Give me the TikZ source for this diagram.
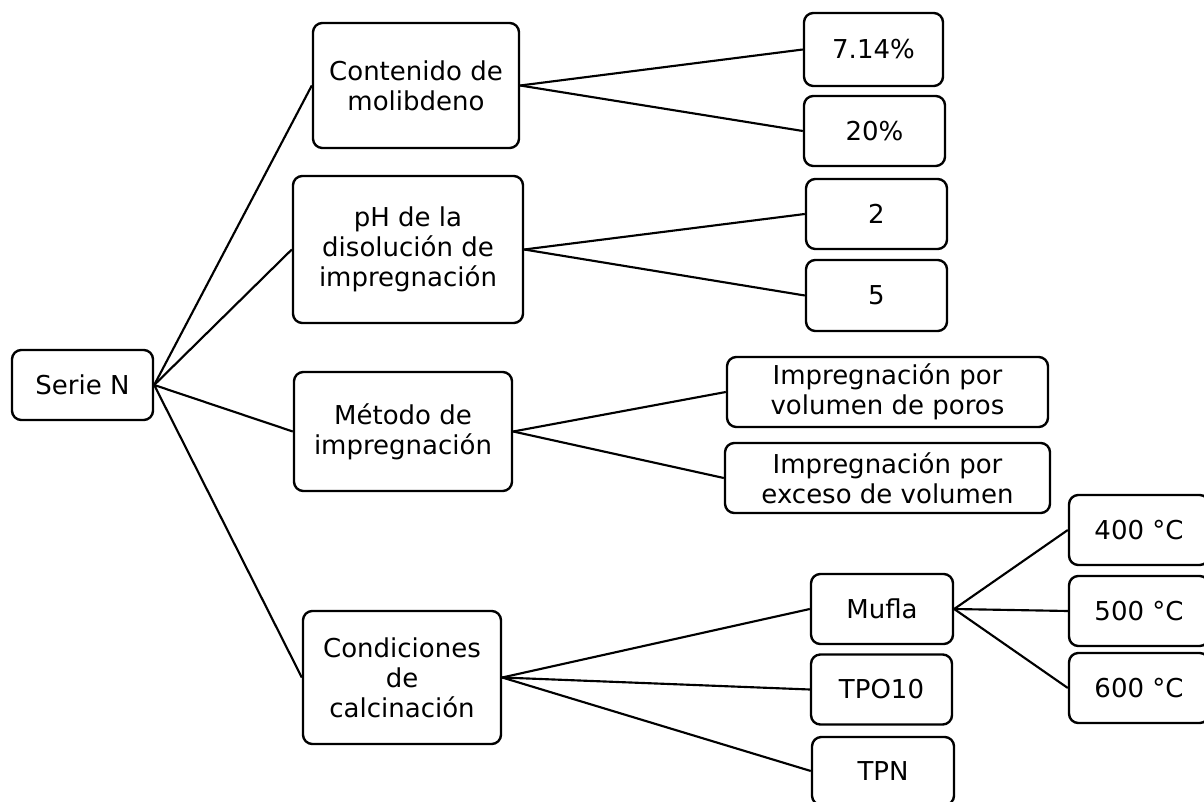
\documentclass[tikz,border=0pt]{standalone}
\usepackage{fontspec}
\setmainfont{DejaVu Sans}
\usetikzlibrary{positioning}

\tikzset{box/.style={draw,rounded corners=7pt,line width=1.8pt,align=center,inner sep=0pt,
  font=\fontsize{19.5}{22.5}\selectfont},
  sz/.style 2 args={minimum width={#1*0.75pt},minimum height={#2*0.75pt}},
  link/.style={line width=1.6pt}}

\begin{document}
\begin{tikzpicture}[x=0.75pt,y=-0.75pt]
\useasboundingbox (0,0) rectangle (1204,802);
\clip (0,0) rectangle (1204,802);

% raiz y primer nivel
\node[box,sz={141}{70}] (serie) at (82.5,385) {Serie N};
\node[box,sz={206}{125}] (cont) at (416,85.5) {Contenido de\\molibdeno};
\node[box,sz={230}{147}] (ph) at (408,249.5) {pH de la\\disolución de\\impregnación};
\node[box,sz={218}{119}] (metodo) at (403,431.5) {Método de\\impregnación};
\node[box,sz={198}{133}] (cond) at (402,677.5) {Condiciones\\de\\calcinación};

% segundo nivel
\node[box,sz={139}{73}] (p714) at (873.5,49.5) {7.14\%};
\node[box,sz={141}{70}] (p20) at (874.5,131) {20\%};
\node[box,sz={141}{70}] (ph2) at (876.5,214) {2};
\node[box,sz={141}{71}] (ph5) at (876.5,295.5) {5};
\node[box,sz={321}{70}] (poros) at (887.5,392) {Impregnación por\\volumen de poros};
\node[box,sz={325}{70}] (exceso) at (887.5,478) {Impregnación por\\exceso de volumen};
\node[box,sz={142}{70}] (mufla) at (882,609) {Mufla};
\node[box,sz={141}{70}] (tpo) at (881.5,689.5) {TPO10};
\node[box,sz={142}{68}] (tpn) at (883,771) {TPN};

% temperaturas
\node[box,sz={140}{70}] (t400) at (1139,530) {400 °C};
\node[box,sz={140}{70}] (t500) at (1139,611) {500 °C};
\node[box,sz={140}{70}] (t600) at (1139,688) {600 °C};

\foreach \b in {cont,ph,metodo,cond}
  \draw[link] (serie.east) -- (\b.west);
\draw[link] (cont.east) -- (p714.west);
\draw[link] (cont.east) -- (p20.west);
\draw[link] (ph.east) -- (ph2.west);
\draw[link] (ph.east) -- (ph5.west);
\draw[link] (metodo.east) -- (poros.west);
\draw[link] (metodo.east) -- (exceso.west);
\foreach \b in {mufla,tpo,tpn}
  \draw[link] (cond.east) -- (\b.west);
\foreach \b in {t400,t500,t600}
  \draw[link] (mufla.east) -- (\b.west);

\end{tikzpicture}
\end{document}
